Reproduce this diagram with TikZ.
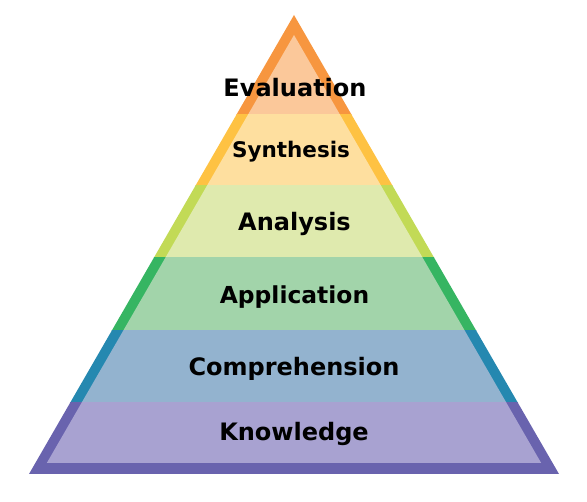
\documentclass[tikz,border=0pt]{standalone}
\usepackage{fontspec}
\setmainfont{DejaVu Sans}
\definecolor{evD}{HTML}{F7963F}\definecolor{evL}{HTML}{FBC89A}
\definecolor{syD}{HTML}{FEC243}\definecolor{syL}{HTML}{FEDF9F}
\definecolor{anD}{HTML}{C2DA56}\definecolor{anL}{HTML}{DFEAAE}
\definecolor{apD}{HTML}{36B562}\definecolor{apL}{HTML}{A2D4AA}
\definecolor{coD}{HTML}{2588B0}\definecolor{coL}{HTML}{93B3CF}
\definecolor{knD}{HTML}{6963AE}\definecolor{knL}{HTML}{A8A2D1}
\tikzset{lvl/.style={font=\fontsize{24}{28}\selectfont\bfseries, text=black, inner sep=0pt, anchor=base},
  lvlsmall/.style={lvl, font=\fontsize{21.5}{25}\selectfont\bfseries}}
\newcommand{\band}[4]{%
  \begin{scope}
    \clip (0,#1) rectangle (587,#2);
    \fill[#3] (294,15) -- (29,474) -- (559,474) -- cycle;
    \fill[#4] (294,35) -- (46.8,463) -- (541.2,463) -- cycle;
  \end{scope}}
\begin{document}
\begin{tikzpicture}[x=1pt,y=-1pt]
\useasboundingbox (0,0) rectangle (587,502);
\band{0}{114.5}{evD}{evL}
\band{114.5}{186}{syD}{syL}
\band{186}{258}{anD}{anL}
\band{258}{331}{apD}{apL}
\band{331}{403}{coD}{coL}
\band{403}{502}{knD}{knL}
\node[lvl] (ev) at (295,97) {Evaluation};
\node[lvlsmall] (sy) at (291,158) {Synthesis};
\node[lvl] (an) at (294.5,231) {Analysis};
\node[lvl, font=\fontsize{23.4}{27}\selectfont\bfseries] (ap) at (294.5,304) {Application};
\node[lvl] (co) at (294,376) {Comprehension};
\node[lvl] (kn) at (294,441) {Knowledge};
\end{tikzpicture}
\end{document}
